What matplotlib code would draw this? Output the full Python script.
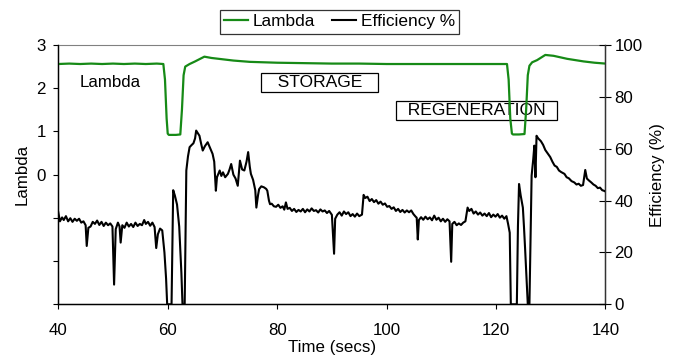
import matplotlib
matplotlib.use("Agg")
import matplotlib.pyplot as plt
from matplotlib.ticker import FuncFormatter

plt.rcParams['font.family'] = ['Liberation Sans', 'DejaVu Sans']

# Lambda trace (left axis)
lambda_t = [40.0, 42.0, 44.0, 46.0, 48.0, 50.0, 52.0, 54.0, 56.0, 58.0, 59.2, 59.5, 59.8, 60.0, 60.2,
            61.5, 62.3, 62.6, 62.9, 63.2, 64.0, 65.0, 66.7, 68.0, 70.0, 72.0, 75.0, 80.0, 85.0,
            90.0, 95.0, 100.0, 105.0, 110.0, 115.0, 120.0, 122.0, 122.3, 122.6, 122.9, 123.1,
            124.2, 125.2, 125.5, 125.8, 126.1, 126.6, 127.5, 129.0, 130.5, 133.0, 136.0, 138.0, 140.0]
lambda_v = [2.56, 2.57, 2.56, 2.57, 2.56, 2.57, 2.56, 2.57, 2.56, 2.57, 2.56, 2.20, 1.30, 0.95, 0.92,
            0.92, 0.93, 1.50, 2.30, 2.50, 2.56, 2.62, 2.73, 2.70, 2.67, 2.64, 2.61, 2.59, 2.58,
            2.57, 2.57, 2.56, 2.56, 2.56, 2.56, 2.56, 2.56, 2.20, 1.30, 0.95, 0.93,
            0.93, 0.94, 1.50, 2.30, 2.52, 2.60, 2.65, 2.77, 2.75, 2.68, 2.62, 2.59, 2.57]

# Efficiency trace (right axis)
eff_t = [40.0, 40.3, 40.7, 41.0, 41.4, 41.8, 42.2, 42.6, 43.0, 43.4, 43.8, 44.2, 44.6, 45.0, 45.2,
         45.5, 45.9, 46.3, 46.7, 47.1, 47.5, 47.9, 48.3, 48.7, 49.1, 49.5, 49.9, 50.2, 50.5, 50.9,
         51.2, 51.4, 51.7, 52.1, 52.5, 52.9, 53.3, 53.7, 54.1, 54.5, 54.9, 55.3, 55.7, 56.0, 56.4,
         56.8, 57.2, 57.6, 57.9, 58.2, 58.6, 59.0, 59.4, 59.7, 59.9, 60.7, 61.0, 61.3, 61.7, 62.1,
         62.5, 62.7, 63.1, 63.4, 63.7, 64.0, 64.4, 64.7, 65.0, 65.2, 65.5, 65.8, 66.1, 66.4, 66.8,
         67.3, 67.8, 68.2, 68.5, 68.8, 69.0, 69.5, 69.8, 70.1, 70.5, 71.0, 71.3, 71.6, 72.0, 72.4,
         72.8, 73.2, 73.6, 74.0, 74.4, 74.7, 75.0, 75.2, 75.6, 76.0, 76.2, 76.5, 76.7, 77.1, 77.6,
         78.0, 78.2, 78.5, 78.7, 79.0, 79.4, 79.8, 80.2, 80.6, 81.0, 81.3, 81.6, 81.9, 82.3, 82.7,
         83.1, 83.5, 83.9, 84.3, 84.7, 85.1, 85.5, 85.9, 86.3, 86.7, 87.1, 87.5, 87.9, 88.3, 88.7,
         89.1, 89.5, 90.0, 90.4, 90.6, 91.0, 91.4, 91.8, 92.2, 92.6, 93.0, 93.4, 93.8, 94.2, 94.6,
         95.0, 95.5, 95.8, 96.1, 96.5, 96.9, 97.3, 97.7, 98.1, 98.5, 98.9, 99.3, 99.7, 100.1, 100.5,
         100.9, 101.3, 101.7, 102.1, 102.5, 102.9, 103.3, 103.7, 104.1, 104.5, 104.9, 105.3, 105.5,
         105.7, 105.9, 106.3, 106.7, 107.1, 107.5, 107.9, 108.3, 108.7, 109.1, 109.5, 109.9, 110.3,
         110.7, 111.1, 111.5, 111.8, 112.0, 112.4, 112.8, 113.2, 113.6, 114.0, 114.4, 114.8, 115.1,
         115.5, 115.9, 116.3, 116.7, 117.1, 117.5, 117.9, 118.3, 118.7, 119.1, 119.5, 119.9, 120.3,
         120.7, 121.1, 121.5, 121.9, 122.2, 122.5, 122.7, 123.8, 124.0, 124.2, 124.5, 124.9, 125.1,
         125.3, 125.8, 126.1, 126.5, 126.8, 127.0, 127.2, 127.4, 127.7, 128.2, 128.6, 129.0, 129.5,
         129.9, 130.3, 130.7, 131.1, 131.5, 131.9, 132.5, 132.9, 133.3, 133.8, 134.3, 134.7, 135.1,
         135.5, 135.9, 136.3, 136.6, 137.0, 137.4, 137.8, 138.2, 138.6, 139.0, 139.4, 139.7, 140.0]
eff_v = [35.5, 32.0, 33.5, 32.5, 34.0, 32.0, 33.2, 31.8, 33.0, 32.2, 33.0, 31.5, 32.0, 30.5, 22.5,
         29.5, 30.0, 31.8, 31.0, 32.3, 30.6, 31.8, 30.2, 31.5, 30.5, 31.2, 30.0, 7.6, 29.0, 31.5,
         30.0, 23.8, 30.5, 29.5, 31.5, 30.0, 31.0, 29.8, 31.5, 30.2, 31.0, 30.5, 32.5, 31.0, 31.8,
         30.3, 31.5, 29.8, 21.7, 27.0, 29.2, 28.5, 20.0, 10.0, 0.0, 0.0, 44.0, 42.0, 38.5, 30.0,
         12.0, 0.0, 0.0, 51.6, 57.0, 60.6, 61.5, 62.1, 64.0, 67.0, 66.0, 65.0, 62.0, 59.3, 61.0,
         62.5, 60.0, 58.0, 55.0, 43.8, 49.0, 51.6, 49.5, 50.9, 49.0, 50.3, 52.0, 54.1, 50.0, 48.5,
         45.7, 55.4, 52.0, 51.6, 55.0, 58.7, 53.0, 50.3, 48.0, 44.0, 37.3, 42.0, 44.4, 45.5, 45.1,
         44.5, 43.8, 40.0, 38.6, 38.8, 37.8, 37.6, 38.4, 37.2, 37.8, 36.5, 39.3, 36.8, 37.2, 36.0,
         36.8, 35.6, 36.4, 35.8, 36.8, 35.5, 36.6, 35.8, 37.0, 36.0, 36.3, 35.4, 36.6, 35.8, 36.2,
         35.2, 36.0, 34.5, 19.5, 33.0, 34.6, 35.5, 34.2, 35.8, 34.8, 35.5, 34.0, 34.8, 33.8, 35.0,
         34.0, 34.6, 42.2, 41.0, 41.5, 39.8, 40.6, 39.4, 40.2, 38.8, 39.6, 38.4, 38.9, 37.6, 37.9,
         36.8, 37.4, 36.0, 36.8, 35.6, 36.4, 35.4, 36.2, 35.5, 36.2, 34.8, 33.8, 33.4,
         25.0, 32.5, 33.6, 32.6, 33.8, 32.8, 33.5, 32.4, 34.2, 32.6, 33.4, 32.0, 33.0,
         31.8, 32.8, 32.0, 16.4, 31.0, 31.8, 30.5, 31.2, 30.6, 31.5, 32.0, 37.3, 36.0,
         36.8, 35.0, 35.8, 34.6, 35.4, 34.2, 35.0, 34.0, 35.2, 33.6, 34.6, 33.8, 34.8,
         33.4, 34.2, 33.0, 34.0, 31.0, 27.6, 0.0, 0.0, 30.0, 46.4, 42.0, 37.3, 30.0,
         21.8, 0.0, 0.0, 49.6, 56.0, 61.2, 49.0, 65.0, 64.0, 62.9, 61.5, 59.5, 58.0,
         56.8, 55.0, 53.5, 53.0, 51.6, 51.0, 50.3, 49.0, 48.6, 47.5, 47.0, 46.2, 46.5,
         45.7, 46.0, 51.8, 48.5, 47.7, 47.0, 46.2, 45.7, 44.8, 45.0, 44.0, 43.8, 43.5]

x_ticks = [40, 60, 80, 100, 120, 140]
lambda_ticks = [-3, -2, -1, 0, 1, 2, 3]
eff_ticks = [0, 20, 40, 60, 80, 100]

fig = plt.figure(figsize=(6.76, 3.60), dpi=100)
ax = fig.add_axes([0.0862, 0.1547, 0.8095, 0.7203])
ax2 = ax.twinx()

ln_lambda, = ax.plot(lambda_t, lambda_v, color='#168a16', lw=1.6, zorder=3, label='Lambda')
ln_eff, = ax2.plot(eff_t, eff_v, color='black', lw=1.5, zorder=3, label='Efficiency %')

ax.set_xlim(40, 140)
ax.set_ylim(-3, 3)
ax2.set_ylim(0, 100)

ax.set_xticks(x_ticks)
ax.set_yticks(lambda_ticks)
# only the non-negative lambda ticks get labels
ax.yaxis.set_major_formatter(FuncFormatter(lambda v, p: f"{v:.0f}" if v >= 0 else ""))
ax2.set_yticks(eff_ticks)

ax.tick_params(axis='both', labelsize=12.2, length=3.6, width=0.8, direction='out')
ax.tick_params(axis='x', pad=10)
ax.tick_params(axis='y', pad=5.5)
ax2.tick_params(axis='y', labelsize=12.2, length=9, width=0.8, direction='inout', pad=2)

ax.spines['top'].set_color('#808080')
ax2.spines['top'].set_visible(False)
for s in ['left', 'bottom']:
    ax.spines[s].set_linewidth(1.0)
ax2.spines['right'].set_color('#333333')
ax2.spines['right'].set_linewidth(1.0)

ax.set_xlabel('Time (secs)', fontsize=12.2, labelpad=1)
ax.set_ylabel('Lambda', fontsize=12.2, labelpad=5)
ax2.set_ylabel('Efficiency (%)', fontsize=12.2, labelpad=5)

# annotations
ax.text(43.97, 2.03, 'Lambda', fontsize=12.2, ha='left', va='baseline')
box = dict(boxstyle='square,pad=0.1', facecolor='white', edgecolor='black', linewidth=0.9)
ax.text(87.75, 2.13, '   STORAGE   ', fontsize=12.6, ha='center', va='center', bbox=box, zorder=1)
ax.text(116.5, 1.49, '  REGENERATION  ', fontsize=12.6, ha='center', va='center', bbox=box, zorder=1)

leg = fig.legend([ln_lambda, ln_eff], ['Lambda', 'Efficiency %'], loc='center',
                 bbox_to_anchor=(0.502, 0.939), ncol=2, fontsize=12.4, frameon=True,
                 fancybox=False, handlelength=1.4, handletextpad=0.25, columnspacing=1.0,
                 borderpad=0.25)
leg.get_frame().set_edgecolor('black')
leg.get_frame().set_linewidth(0.9)

fig.savefig('out.png', dpi=100)
